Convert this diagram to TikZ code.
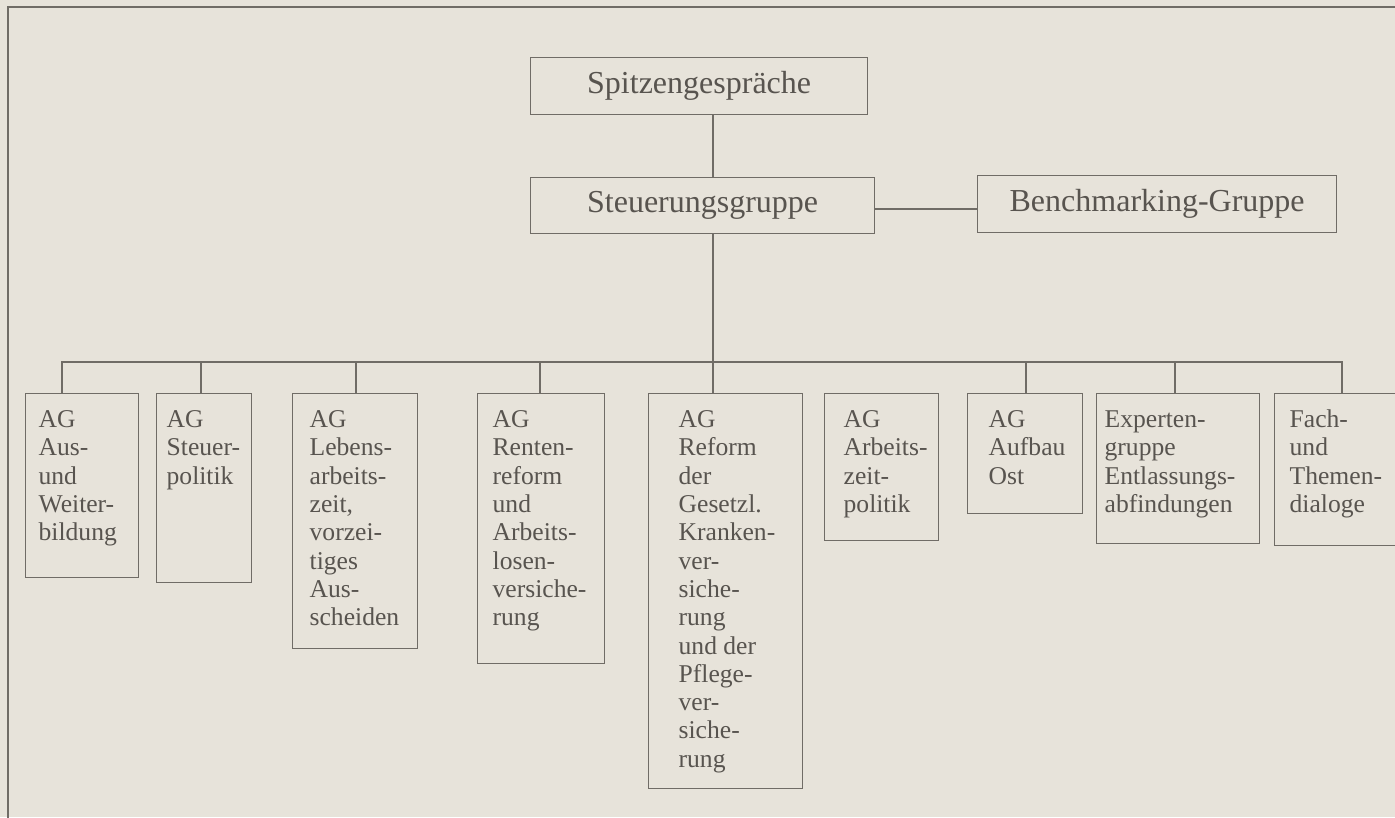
\documentclass[tikz,border=0pt]{standalone}
\usepackage{fontspec}
\setmainfont{Liberation Serif}
\definecolor{paper}{RGB}{231,227,218}
\definecolor{ink}{RGB}{88,84,79}
\definecolor{rulec}{RGB}{112,108,102}
\newcommand{\bigf}{\fontsize{32}{38}\selectfont}
\newcommand{\smallf}{\fontsize{25.6}{28.3}\selectfont}
% width, height, left inset, text
\newcommand{\boxtext}[4]{\parbox[c][#2][t]{#1}{\smallf\raggedright\leftskip=#3\relax\vspace*{14.2pt}\strut #4}}
\begin{document}
\begin{tikzpicture}[x=1pt,y=-1pt,
  line/.style={draw=rulec, line width=1.3pt},
  orgbox/.style={line, text=ink, inner sep=0pt, anchor=north west},
  headbox/.style={orgbox, font=\bigf},
]
\useasboundingbox (0,0) rectangle (1395,817);
\fill[paper] (0,0) rectangle (1395,817);
\clip (0,0) rectangle (1395,817);
% frame
\draw[line] (1400,7) -- (8,7) -- (8,820);
% head boxes
\node[headbox, minimum width=337pt, minimum height=57pt] (sp) at (530,57) {Spitzengespräche};
\node[headbox, minimum width=344pt, minimum height=56pt] (st) at (530,177) {Steuerungsgruppe};
\node[headbox, minimum width=359pt, minimum height=57pt] (bm) at (977,175) {Benchmarking-Gruppe};
% working groups
\node[orgbox] (b1) at (25,393) {\boxtext{113pt}{184pt}{13pt}{AG\\Aus-\\und\\Weiter-\\bildung}};
\node[orgbox] (b2) at (156,393) {\boxtext{95pt}{189pt}{10pt}{AG\\Steuer-\\politik}};
\node[orgbox] (b3) at (292,393) {\boxtext{125pt}{255pt}{17pt}{AG\\Lebens-\\arbeits-\\zeit,\\vorzei-\\tiges\\Aus-\\scheiden}};
\node[orgbox] (b4) at (477,393) {\boxtext{127pt}{270pt}{15pt}{AG\\Renten-\\reform\\und\\Arbeits-\\losen-\\versiche-\\rung}};
\node[orgbox] (b5) at (648,393) {\boxtext{154pt}{395pt}{30pt}{AG\\Reform\\der\\Gesetzl.\\Kranken-\\ver-\\siche-\\rung\\und der\\Pflege-\\ver-\\siche-\\rung}};
\node[orgbox] (b6) at (824,393) {\boxtext{114pt}{147pt}{19pt}{AG\\Arbeits-\\zeit-\\politik}};
\node[orgbox] (b7) at (967,393) {\boxtext{115pt}{120pt}{21pt}{AG\\Aufbau\\Ost}};
\node[orgbox] (b8) at (1096,393) {\boxtext{163pt}{150pt}{8pt}{Experten-\\gruppe\\Entlassungs-\\abfindungen}};
\node[orgbox] (b9) at (1274,393) {\boxtext{135pt}{152pt}{15pt}{Fach-\\und\\Themen-\\dialoge}};
% connector coordinates
\coordinate (trunk) at (713,0);
\coordinate (busL) at (62,362);
\coordinate (busR) at (1342,362);
\coordinate (d2) at (201,362);
\coordinate (d3) at (356,362);
\coordinate (d4) at (540,362);
\coordinate (d7) at (1026,362);
\coordinate (d8) at (1175,362);
\coordinate (side) at (0,209);
% connectors
\draw[line] (sp.south -| trunk) -- (st.north -| trunk);
\draw[line] (st.south -| trunk) -- (b5.north -| trunk);
\draw[line] (st.east |- side) -- (bm.west |- side);
\draw[line] (b1.north -| busL) -- (busL) -- (busR) -- (b9.north -| busR);
\draw[line] (d2) -- (b2.north -| d2);
\draw[line] (d3) -- (b3.north -| d3);
\draw[line] (d4) -- (b4.north -| d4);
\draw[line] (d7) -- (b7.north -| d7);
\draw[line] (d8) -- (b8.north -| d8);
\end{tikzpicture}
\end{document}
